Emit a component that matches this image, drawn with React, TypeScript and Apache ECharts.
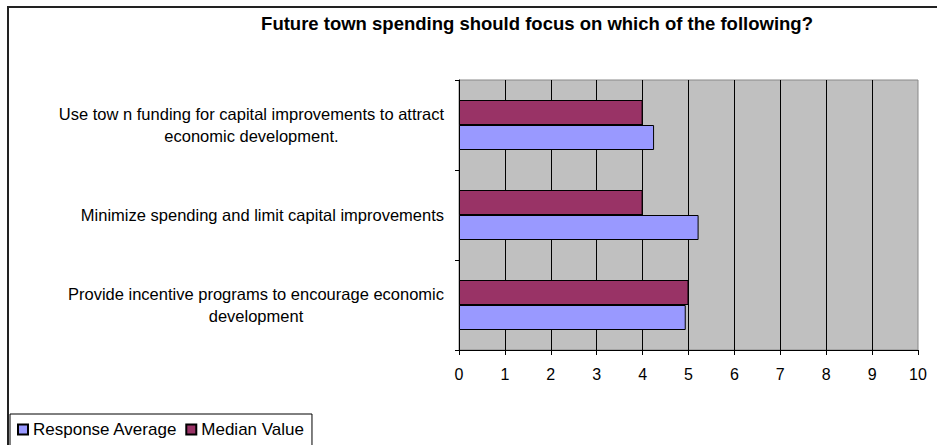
import React, { useEffect, useRef } from 'react';
import * as echarts from 'echarts';

const titleText = 'Future town spending should focus on which of the following?';
const categories = [
  'Provide incentive programs to encourage economic\ndevelopment',
  'Minimize spending and limit capital improvements',
  'Use tow n funding for capital improvements to attract\neconomic development.',
];
const seriesNames = ['Response Average', 'Median Value'];
const responseAverage = [4.94, 5.22, 4.25];
const medianValue = [5, 4, 4];
const xTicks = [0, 1, 2, 3, 4, 5, 6, 7, 8, 9, 10];

const FONT = '"Liberation Sans", Arial, sans-serif';

export default function App() {
  const ref = useRef<HTMLDivElement>(null);
  useEffect(() => {
    if (!ref.current) return;
    const chart = echarts.init(ref.current, null, { renderer: 'svg' });
    chart.setOption({
      animation: false,
      textStyle: { fontFamily: FONT },
      graphic: [
        {
          type: 'rect',
          silent: true,
          z: -10,
          shape: { x: 8, y: 7, width: 1200, height: 1200 },
          style: { fill: 'none', stroke: '#222', lineWidth: 2 },
        },
        {
          type: 'text',
          x: 537,
          y: 23,
          style: {
            text: titleText,
            fontFamily: FONT,
            fontSize: 18.5,
            fontWeight: 'bold',
            fill: '#000',
            align: 'center',
            verticalAlign: 'middle',
          },
        },
      ],
      legend: {
        data: seriesNames,
        left: 10,
        top: 414,
        orient: 'horizontal',
        padding: [7, 8, 9, 7],
        borderColor: '#000',
        borderWidth: 1,
        backgroundColor: '#fff',
        itemWidth: 10,
        itemHeight: 10,
        itemGap: 8,
        icon: 'rect',
        textStyle: { fontFamily: FONT, fontSize: 17, color: '#000' },
      },
      grid: {
        left: 459,
        top: 80,
        width: 459,
        height: 270,
        show: true,
        backgroundColor: '#C0C0C0',
        borderColor: '#888',
        borderWidth: 1,
      },
      xAxis: {
        type: 'value',
        min: xTicks[0],
        max: xTicks[xTicks.length - 1],
        interval: 1,
        axisLine: { show: true, lineStyle: { color: '#000', width: 1 } },
        axisTick: { show: true, length: 5, lineStyle: { color: '#000' } },
        splitLine: { show: true, showMaxLine: false, lineStyle: { color: '#000', width: 1 } },
        axisLabel: { fontFamily: FONT, fontSize: 16, color: '#000', margin: 16 },
      },
      yAxis: {
        type: 'category',
        data: categories,
        axisLine: { show: true, lineStyle: { color: '#000', width: 1 } },
        axisTick: { show: true, length: 4, lineStyle: { color: '#000' } },
        splitLine: { show: false },
        axisLabel: {
          margin: 15,
          color: '#000',
          fontFamily: FONT,
          fontSize: 16.5,
          lineHeight: 22,
          formatter: (v: string) =>
            v
              .split('\n')
              .map((s) => `{c|${s}}`)
              .join('\n'),
          rich: {
            c: { align: 'center', fontFamily: FONT, fontSize: 16.5, lineHeight: 22, color: '#000' },
          },
        },
      },
      series: [
        {
          name: seriesNames[1],
          type: 'bar',
          data: medianValue,
          barWidth: 25,
          barGap: '0%',
          itemStyle: { color: '#993366', borderColor: '#000', borderWidth: 1 },
        },
        {
          name: seriesNames[0],
          type: 'bar',
          data: responseAverage,
          barWidth: 25,
          barGap: '0%',
          itemStyle: { color: '#9999FF', borderColor: '#000', borderWidth: 1 },
        },
      ],
    });
    return () => chart.dispose();
  }, []);
  return (
    <div
      ref={ref}
      style={{ position: 'absolute', left: 0, top: 0, width: 937, height: 445 }}
    />
  );
}
